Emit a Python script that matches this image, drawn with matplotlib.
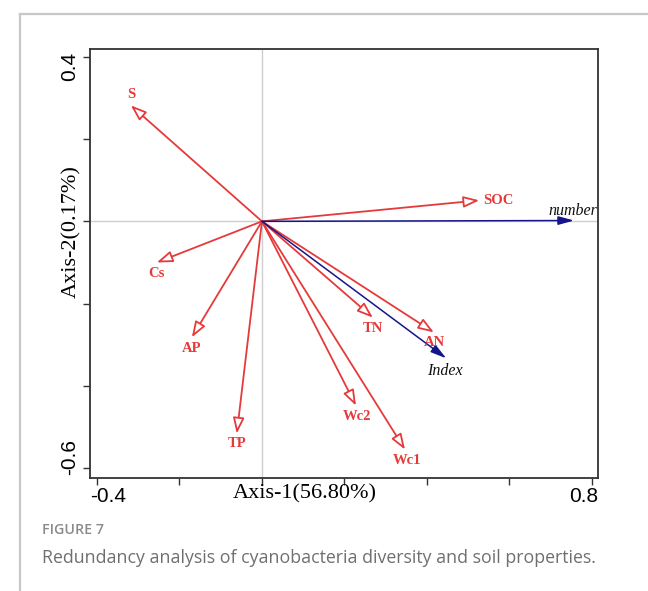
import matplotlib.pyplot as plt
from matplotlib.patches import FancyArrowPatch
from matplotlib.lines import Line2D

# RDA biplot: soil properties (red) and diversity indices (navy)
env_names = ["S", "SOC", "Cs", "AP", "TP", "Wc2", "Wc1", "TN", "AN"]
env_x = [-0.318, 0.527, -0.255, -0.170, -0.061, 0.228, 0.347, 0.269, 0.417]
env_y = [0.282, 0.051, -0.100, -0.282, -0.516, -0.448, -0.555, -0.234, -0.270]

div_names = ["number", "Index"]
div_x = [0.757, 0.447]
div_y = [0.002, -0.333]

x_label = "Axis-1(56.80%)"
y_label = "Axis-2(0.17%)"

RED = "#e53a3a"
NAVY = "#15158a"
SERIF = "Liberation Serif"
SANS = "Liberation Sans"

# label offsets from the arrow tip, in points: (dx, dy, ha)
label_off = {
    "S": (0, 8, "center"), "SOC": (3, 0, "left"), "Cs": (0, -8, "center"),
    "AP": (0, -8, "center"), "TP": (0, -7.5, "center"), "Wc2": (1, -7.5, "center"),
    "Wc1": (1.5, -7.5, "center"), "TN": (0, -8, "center"), "AN": (0.5, -7.5, "center"),
    "number": (-1, 7, "center"), "Index": (-1, -9, "center"),
}

fig = plt.figure(figsize=(6.48, 5.91), dpi=100)
W, H = 648, 591
ax = fig.add_axes([90 / W, 1 - 478 / H, 508 / W, 429 / H])
ax.set_xlim(-0.417, 0.815)
ax.set_ylim(-0.624, 0.419)

ax.axhline(0, color="#cfcfcf", lw=1, zorder=0)
ax.axvline(0, color="#cfcfcf", lw=1, zorder=0)

for s in ax.spines.values():
    s.set_color("#333333")
    s.set_linewidth(1.3)

ax.set_xticks([-0.4, -0.2, 0, 0.2, 0.4, 0.6, 0.8])
ax.set_yticks([-0.6, -0.4, -0.2, 0, 0.2, 0.4])
ax.tick_params(direction="out", length=5, width=1, color="#333333",
               labelbottom=False, labelleft=False)


def draw_arrow(x, y, color, face, hw, lw):
    arr = FancyArrowPatch((0, 0), (x, y),
                          arrowstyle=f"-|>,head_length=9.5,head_width={hw}",
                          mutation_scale=1, shrinkA=0, shrinkB=0,
                          fc=face, ec=color, lw=lw, zorder=3)
    ax.add_patch(arr)


for name, x, y in zip(env_names, env_x, env_y):
    draw_arrow(x, y, RED, "white", 3.4, 1.3)
    dx, dy, ha = label_off[name]
    ax.annotate(name, (x, y), xytext=(dx, dy), textcoords="offset points",
                ha=ha, va="center", color=RED, fontsize=10.5,
                fontweight="bold", family=SERIF, zorder=4)

for name, x, y in zip(div_names, div_x, div_y):
    draw_arrow(x, y, NAVY, NAVY, 2.6, 1.1)
    dx, dy, ha = label_off[name]
    ax.annotate(name, (x, y), xytext=(dx, dy), textcoords="offset points",
                ha=ha, va="center", color="#111111", fontsize=11.5,
                style="italic", family=SERIF, zorder=4)

# only the end ticks carry labels, pinned to the frame corners
ax.annotate("-0.4", (0, 0), xycoords="axes fraction", xytext=(0, -13),
            textcoords="offset points", ha="left", va="center",
            fontsize=15, family=SANS)
ax.annotate("0.8", (1, 0), xycoords="axes fraction", xytext=(0, -13),
            textcoords="offset points", ha="right", va="center",
            fontsize=15, family=SANS)
ax.annotate("0.4", (0, 1), xycoords="axes fraction", xytext=(-15, -2),
            textcoords="offset points", ha="center", va="top",
            rotation=90, fontsize=15, family=SANS)
ax.annotate("-0.6", (0, 0), xycoords="axes fraction", xytext=(-15, 2),
            textcoords="offset points", ha="center", va="bottom",
            rotation=90, fontsize=15, family=SANS)

fig.text(305 / W, 1 - 494 / H, x_label, ha="center", va="center",
         fontsize=16, family=SERIF)
fig.text(72 / W, 1 - 232 / H, y_label, ha="center", va="center",
         rotation=90, fontsize=16, family=SERIF)

# panel border on the left and top
fig.add_artist(Line2D([20 / W, 20 / W], [0, 1 - 14 / H], transform=fig.transFigure,
                      color="#c8c8c8", lw=1.6))
fig.add_artist(Line2D([20 / W, 1], [1 - 14 / H, 1 - 14 / H], transform=fig.transFigure,
                      color="#c8c8c8", lw=1.6))

fig.text(42 / W, 1 - 530 / H, "FIGURE 7", ha="left", va="center",
         fontsize=10.3, color="#8a8a8a", family="Open Sans", fontweight="semibold")
fig.text(42 / W, 1 - 558 / H,
         "Redundancy analysis of cyanobacteria diversity and soil properties.",
         ha="left", va="center", fontsize=12.8, color="#6f6f6f", family="Open Sans")

fig.savefig("out.png", dpi=100)
